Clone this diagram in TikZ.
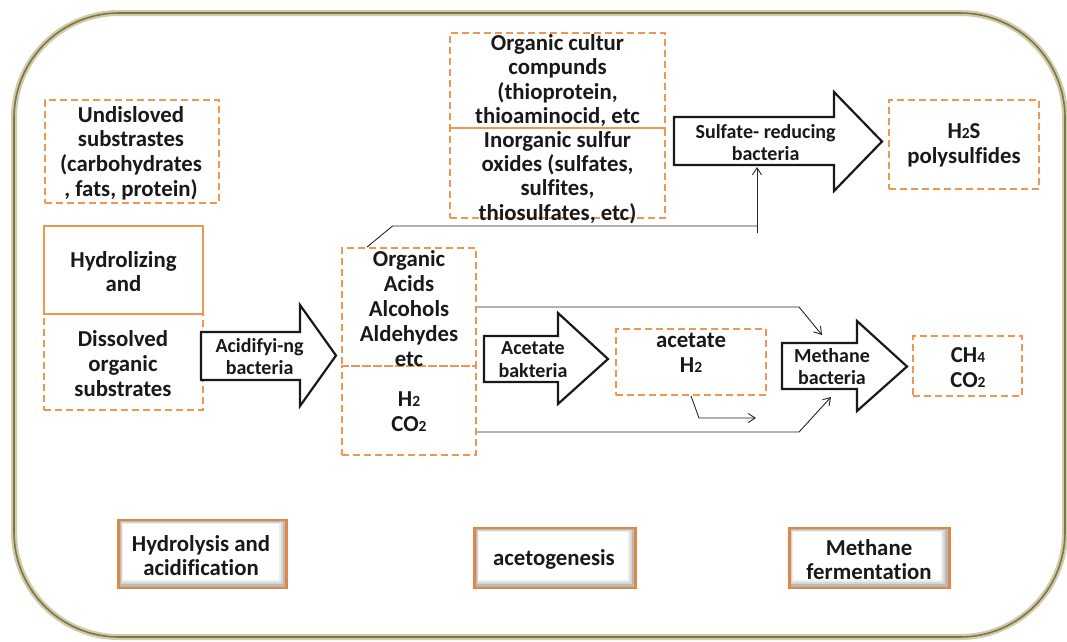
\documentclass[tikz,border=0pt]{standalone}
\usepackage{fontspec}
\setmainfont{Carlito}[Ligatures=CommonOff]
\usetikzlibrary{arrows.meta,calc}
\definecolor{orng}{RGB}{240,150,80}
\definecolor{orngdark}{RGB}{222,135,70}
\definecolor{olivedark}{RGB}{125,118,70}
\definecolor{olivelight}{RGB}{208,203,170}
\newcommand\smd[1]{{\fontsize{15.5}{15.5}\selectfont #1}}
\begin{document}
\begin{tikzpicture}[x=1pt,y=-1pt,
  txt/.style={font=\fontsize{22.8}{24.8}\selectfont\bfseries, text=black!90, align=center, inner sep=0pt},
  tighttxt/.style={font=\fontsize{22.8}{24.2}\selectfont\bfseries, text=black!90, align=center, inner sep=0pt},
  atxt/.style={font=\fontsize{20}{22.5}\selectfont\bfseries, text=black!90, align=center, inner sep=0pt},
  dbox/.style={rectangle, draw=orng, line width=2pt, dash pattern=on 7pt off 4pt, inner sep=0pt},
  sbox/.style={rectangle, draw=orng, line width=2pt, inner sep=0pt},
  fatarrow/.style={draw=black!90, line width=2.2pt, fill=white, line join=miter, miter limit=10},
  conn/.style={draw=black!85, line width=0.9pt},
  conntip/.style={-{Straight Barb[length=7pt,width=9pt,line width=0.9pt]}},
  phasebox/.style={rectangle, draw=orngdark, line width=2.5pt, inner sep=0pt, fill=gray!55,
    path picture={
      \fill[gray!32] ([xshift=2pt,yshift=4pt]path picture bounding box.south west) rectangle ([xshift=-4pt,yshift=-2pt]path picture bounding box.north east);
      \fill[gray!14] ([xshift=3pt,yshift=6pt]path picture bounding box.south west) rectangle ([xshift=-6pt,yshift=-3pt]path picture bounding box.north east);
      \fill[white] ([xshift=4pt,yshift=8pt]path picture bounding box.south west) rectangle ([xshift=-8pt,yshift=-4pt]path picture bounding box.north east);
    }}
]
\useasboundingbox (0,0) rectangle (1067,641);
\fill[white] (0,0) rectangle (1067,641);

% outer frame
\draw[olivelight, line width=6pt, rounded corners=105pt] (14,13) rectangle (1065,637);
\draw[olivedark, line width=1.6pt, rounded corners=105pt] (14,13) rectangle (1065,637);

% boxes
\node[dbox, minimum width=174pt, minimum height=103pt] (undis) at (132,151.5) {};
\node[dbox, minimum width=159pt, minimum height=96pt] (dissolved) at (123.5,362) {};
\node[sbox, minimum width=159pt, minimum height=88pt] (hydro) at (123.5,270) {};
\node[dbox, minimum width=134pt, minimum height=118pt] (orgacids) at (409,307) {};
\node[dbox, minimum width=134pt, minimum height=89pt] (h2co2) at (409,410.5) {};
\node[dbox, minimum width=215pt, minimum height=95pt] (orgsulf) at (557.5,80.5) {};
\node[dbox, minimum width=215pt, minimum height=90pt] (inorg) at (557.5,173) {};
\node[dbox, minimum width=150pt, minimum height=89pt] (h2s) at (963.8,144.5) {};
\node[dbox, minimum width=150pt, minimum height=66pt] (acetate) at (691,362) {};
\node[dbox, minimum width=109pt, minimum height=60pt] (ch4) at (967.5,366) {};

% box texts
\node[txt] (undis-t) at (131,153) {Undisloved\\substrastes\\(carbohydrates\\, fats, protein)};
\node[txt] (hydro-t) at (123.5,271.5) {Hydrolizing\\and};
\node[txt] (dissolved-t) at (123,363.5) {Dissolved\\organic\\substrates};
\node[txt] (orgacids-t) at (409,308.5) {Organic\\Acids\\Alcohols\\Aldehydes\\etc};
\node[txt] (h2co2-t) at (409,412) {H\smd{2}\\CO\smd{2}};
\node[tighttxt] (orgsulf-t) at (557.5,80.5) {Organic cultur\\compunds\\(thioprotein,\\thioaminocid, etc};
\node[tighttxt] (inorg-t) at (557.5,177.5) {Inorganic sulfur\\oxides (sulfates,\\sulfites,\\thiosulfates, etc)};
\node[txt] (h2s-t) at (964,145.5) {H\smd{2}S\\polysulfides};
\node[txt] (acetate-t) at (691,352.5) {acetate\\H\smd{2}};
\node[txt] (ch4-t) at (968,367.5) {CH\smd{4}\\CO\smd{2}};

% fat arrows
\draw[fatarrow] (201,332) -- (300,332) -- (300,305) -- (336,355.5) -- (300,406) -- (300,380) -- (201,380) -- cycle;
\node[atxt] (acid) at (259.6,356.5) {Acidifyi-ng\\bacteria};

\draw[fatarrow] (674,117) -- (834,117) -- (834,92) -- (882,141.5) -- (834,191) -- (834,165) -- (674,165) -- cycle;
\node[atxt] (sulf) at (765.6,142.5) {Sulfate- reducing\\bacteria};

\draw[fatarrow] (484,336) -- (558,336) -- (558,313) -- (608,359) -- (558,404) -- (558,382) -- (484,382) -- cycle;
\node[atxt] (acet) at (533,359.5) {Acetate\\bakteria};

\draw[fatarrow] (782,343) -- (857,343) -- (857,321) -- (907,366.5) -- (857,411) -- (857,389) -- (782,389) -- cycle;
\node[atxt] (meth) at (832,366.5) {Methane\\bacteria};

% connector end points
\coordinate (sulf-in) at (757,167);
\coordinate (sulf-j) at (757,226);
\coordinate (meth-in1) at (822,335);
\coordinate (meth-in2) at (831,397);
\coordinate (ace-out) at (756,418);

% connectors
\draw[conn] ([xshift=26pt]orgacids.north west) -- (392.6,226) -- (sulf-j);
\draw[conn,conntip] ($(sulf-j)+(0,7)$) -- (sulf-in);
\draw[conn,conntip] (orgacids.east) -- (799,307) -- (meth-in1);
\draw[conn,conntip] ([yshift=-21.5pt]h2co2.east) -- (799,432) -- (meth-in2);
\draw[conn,conntip] (acetate.south) -- (699,418) -- (ace-out);

% phase boxes
\node[phasebox, minimum width=168pt, minimum height=68pt] (phase1) at (202.7,554) {};
\node[txt] (phase1-t) at (201,555.5) {Hydrolysis and\\acidification};
\node[phasebox, minimum width=161pt, minimum height=60pt] (phase2) at (555,558) {};
\node[txt] (phase2-t) at (554,559) {acetogenesis};
\node[phasebox, minimum width=160pt, minimum height=60pt] (phase3) at (869.3,558) {};
\node[txt] (phase3-t) at (869,559.5) {Methane\\fermentation};
\end{tikzpicture}
\end{document}
